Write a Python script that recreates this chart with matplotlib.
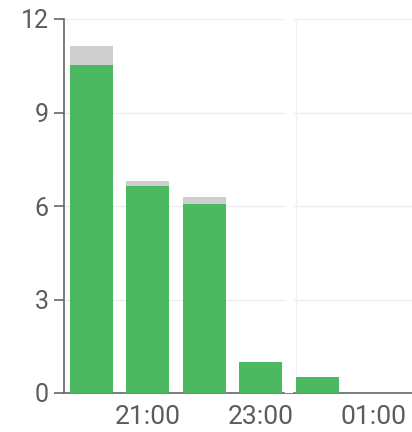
import matplotlib
matplotlib.use("Agg")
import matplotlib.pyplot as plt

hours = [20, 21, 22, 23, 24]
active = [10.52, 6.64, 6.06, 1.0, 0.52]
extra = [0.62, 0.15, 0.24, 0.0, 0.0]
xticks = [21, 23, 25]
xticklabels = ["21:00", "23:00", "01:00"]
yticks = [0, 3, 6, 9, 12]

plt.rcParams['font.family'] = ['Roboto', 'DejaVu Sans']

fig = plt.figure(figsize=(4.12, 4.32), dpi=100)
ax = fig.add_axes([64/412, (432-393)/432, 1 - 64/412, (393-19)/432])

green = "#4cb960"
grey = "#cfcfcf"
ax.bar(hours, active, width=0.76, color=green, zorder=3)
ax.bar(hours, extra, bottom=active, width=0.76, color=grey, zorder=3)

ax.set_xlim(19.52, 25.68)
ax.set_ylim(0, 12)
ax.set_yticks(yticks)
ax.set_yticklabels([str(v) for v in yticks])
ax.set_xticks(xticks)
ax.set_xticklabels(xticklabels)

ax.grid(axis='y', color="#ececec", linewidth=1, zorder=0)
ax.axvline(23.5, color="white", linewidth=6, zorder=2.5)
ax.axvline(23.62, color="#f0f0f0", linewidth=1, zorder=2.6)

for s in ['top', 'right']:
    ax.spines[s].set_visible(False)
for s in ['left', 'bottom']:
    ax.spines[s].set_color("#666666")
    ax.spines[s].set_linewidth(1.2)
ax.spines['bottom'].set_zorder(2.4)

ax.tick_params(axis='y', length=7, width=1.2, color="#666666", labelsize=18,
               labelcolor="#5c5c5c", pad=4)
ax.tick_params(axis='x', length=0, labelsize=19, labelcolor="#5c5c5c", pad=9)

fig.savefig("out.png", dpi=100)
